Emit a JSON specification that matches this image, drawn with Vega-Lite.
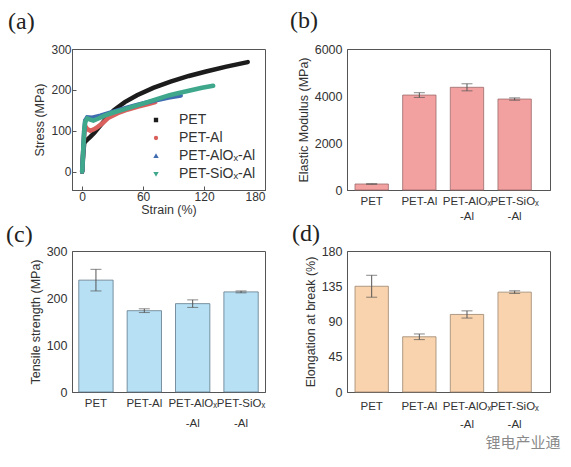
{
  "$schema": "https://vega.github.io/schema/vega-lite/v6.json",
  "background": "white",
  "padding": {"left": 5, "top": 8, "right": 5, "bottom": 3},
  "datasets": {
    "curves": [
      {"sample": "PET", "strain": 0, "stress": 0},
      {"sample": "PET", "strain": 1, "stress": 40},
      {"sample": "PET", "strain": 2, "stress": 70},
      {"sample": "PET", "strain": 4, "stress": 76},
      {"sample": "PET", "strain": 8, "stress": 85},
      {"sample": "PET", "strain": 12, "stress": 95},
      {"sample": "PET", "strain": 17, "stress": 110},
      {"sample": "PET", "strain": 22, "stress": 125},
      {"sample": "PET", "strain": 31, "stress": 150},
      {"sample": "PET", "strain": 42, "stress": 170},
      {"sample": "PET", "strain": 54, "stress": 187},
      {"sample": "PET", "strain": 70, "stress": 205},
      {"sample": "PET", "strain": 87, "stress": 220},
      {"sample": "PET", "strain": 105, "stress": 234},
      {"sample": "PET", "strain": 122, "stress": 245},
      {"sample": "PET", "strain": 142, "stress": 257},
      {"sample": "PET", "strain": 163, "stress": 268},
      {"sample": "PET-Al", "strain": 0, "stress": 0},
      {"sample": "PET-Al", "strain": 1, "stress": 50},
      {"sample": "PET-Al", "strain": 2, "stress": 90},
      {"sample": "PET-Al", "strain": 3, "stress": 112},
      {"sample": "PET-Al", "strain": 5, "stress": 104},
      {"sample": "PET-Al", "strain": 8, "stress": 100},
      {"sample": "PET-Al", "strain": 12, "stress": 104},
      {"sample": "PET-Al", "strain": 15, "stress": 109},
      {"sample": "PET-Al", "strain": 20, "stress": 118},
      {"sample": "PET-Al", "strain": 26, "stress": 132},
      {"sample": "PET-Al", "strain": 35, "stress": 143},
      {"sample": "PET-Al", "strain": 45, "stress": 152},
      {"sample": "PET-Al", "strain": 55, "stress": 159},
      {"sample": "PET-Al", "strain": 65, "stress": 165},
      {"sample": "PET-Al", "strain": 72, "stress": 170},
      {"sample": "PET-AlOₓ-Al", "strain": 0, "stress": 0},
      {"sample": "PET-AlOₓ-Al", "strain": 1, "stress": 50},
      {"sample": "PET-AlOₓ-Al", "strain": 2, "stress": 100},
      {"sample": "PET-AlOₓ-Al", "strain": 3, "stress": 125},
      {"sample": "PET-AlOₓ-Al", "strain": 5, "stress": 133},
      {"sample": "PET-AlOₓ-Al", "strain": 10, "stress": 132},
      {"sample": "PET-AlOₓ-Al", "strain": 18, "stress": 137},
      {"sample": "PET-AlOₓ-Al", "strain": 26, "stress": 143},
      {"sample": "PET-AlOₓ-Al", "strain": 35, "stress": 150},
      {"sample": "PET-AlOₓ-Al", "strain": 45, "stress": 157},
      {"sample": "PET-AlOₓ-Al", "strain": 55, "stress": 164},
      {"sample": "PET-AlOₓ-Al", "strain": 65, "stress": 170},
      {"sample": "PET-AlOₓ-Al", "strain": 75, "stress": 176},
      {"sample": "PET-AlOₓ-Al", "strain": 85, "stress": 181},
      {"sample": "PET-AlOₓ-Al", "strain": 97, "stress": 186},
      {"sample": "PET-SiOₓ-Al", "strain": 0, "stress": 0},
      {"sample": "PET-SiOₓ-Al", "strain": 1, "stress": 50},
      {"sample": "PET-SiOₓ-Al", "strain": 2, "stress": 100},
      {"sample": "PET-SiOₓ-Al", "strain": 3, "stress": 122},
      {"sample": "PET-SiOₓ-Al", "strain": 5, "stress": 130},
      {"sample": "PET-SiOₓ-Al", "strain": 8, "stress": 127},
      {"sample": "PET-SiOₓ-Al", "strain": 11, "stress": 125},
      {"sample": "PET-SiOₓ-Al", "strain": 16, "stress": 130},
      {"sample": "PET-SiOₓ-Al", "strain": 22, "stress": 137},
      {"sample": "PET-SiOₓ-Al", "strain": 30, "stress": 144},
      {"sample": "PET-SiOₓ-Al", "strain": 38, "stress": 150},
      {"sample": "PET-SiOₓ-Al", "strain": 46, "stress": 156},
      {"sample": "PET-SiOₓ-Al", "strain": 54, "stress": 162},
      {"sample": "PET-SiOₓ-Al", "strain": 62, "stress": 168},
      {"sample": "PET-SiOₓ-Al", "strain": 72, "stress": 176},
      {"sample": "PET-SiOₓ-Al", "strain": 86, "stress": 187},
      {"sample": "PET-SiOₓ-Al", "strain": 93, "stress": 191},
      {"sample": "PET-SiOₓ-Al", "strain": 105, "stress": 198},
      {"sample": "PET-SiOₓ-Al", "strain": 118, "stress": 205},
      {"sample": "PET-SiOₓ-Al", "strain": 129, "stress": 210}
    ],
    "modulus": [
      {"sample": "PET", "mean": 255, "err": 10},
      {"sample": "PET-Al", "mean": 4040, "err": 100},
      {"sample": "PET-AlOₓ-Al", "mean": 4370, "err": 150},
      {"sample": "PET-SiOₓ-Al", "mean": 3870, "err": 50}
    ],
    "strength": [
      {"sample": "PET", "mean": 238, "err": 23},
      {"sample": "PET-Al", "mean": 173, "err": 4},
      {"sample": "PET-AlOₓ-Al", "mean": 188, "err": 8},
      {"sample": "PET-SiOₓ-Al", "mean": 213, "err": 2}
    ],
    "elongation": [
      {"sample": "PET", "mean": 135, "err": 14},
      {"sample": "PET-Al", "mean": 70.5, "err": 3.6},
      {"sample": "PET-AlOₓ-Al", "mean": 99, "err": 4.6},
      {"sample": "PET-SiOₓ-Al", "mean": 127.5, "err": 1.7}
    ]
  },
  "title": {
    "text": "锂电产业通",
    "orient": "bottom",
    "anchor": "end",
    "font": "Noto Sans CJK SC",
    "fontSize": 15,
    "fontWeight": "normal",
    "color": "#8a8a8a",
    "offset": 6,
    "dx": 10
  },
  "columns": 2,
  "align": "each",
  "bounds": "flush",
  "spacing": {"row": 61, "column": 82},
  "concat": [
    {
      "width": 193,
      "height": 141,
      "title": {"text": "(a)", "anchor": "start", "frame": "group", "font": "Liberation Serif", "fontSize": 24, "fontWeight": "normal", "color": "#222", "baseline": "alphabetic", "dx": -64, "offset": -10},
      "data": {"name": "curves"},
      "layer": [
        {
          "transform": [{"filter": "datum.strain == 0"}],
          "mark": {"type": "point", "filled": true, "size": 14, "opacity": 1},
          "encoding": {
            "x": {"field": "strain", "type": "quantitative"},
            "y": {"field": "stress", "type": "quantitative"},
            "color": {"field": "sample", "type": "nominal", "title": null},
            "shape": {"field": "sample", "type": "nominal", "title": null,
              "scale": {"domain": ["PET", "PET-Al", "PET-AlOₓ-Al", "PET-SiOₓ-Al"], "range": ["square", "circle", "triangle-up", "triangle-down"]}}
          }
        },
        {
          "mark": {"type": "line", "strokeWidth": 4.5, "clip": true, "strokeCap": "round"},
          "encoding": {
            "x": {"field": "strain", "type": "quantitative",
              "scale": {"domain": [-10, 180], "nice": false, "zero": false},
              "axis": {"title": "Strain (%)", "values": [0, 60, 120, 180], "tickSize": -4, "labelPadding": 5, "titlePadding": 1, "labelFontSize": 12}},
            "y": {"field": "stress", "type": "quantitative",
              "scale": {"domain": [-45, 300], "nice": false, "zero": false},
              "axis": {"title": "Stress (MPa)", "values": [0, 100, 200, 300], "tickSize": -4, "labelPadding": 5, "titlePadding": 4, "labelFontSize": 12}},
            "color": {"field": "sample", "type": "nominal", "title": null,
              "scale": {"domain": ["PET", "PET-Al", "PET-AlOₓ-Al", "PET-SiOₓ-Al"], "range": ["#1c1c1c", "#d9605c", "#3f6cb0", "#3fa88c"]}}
          }
        }
      ]
    },
    {
      "width": 203,
      "height": 141,
      "title": {"text": "(b)", "anchor": "start", "frame": "group", "font": "Liberation Serif", "fontSize": 24, "fontWeight": "normal", "color": "#222", "baseline": "alphabetic", "dx": -57, "offset": -9},
      "data": {"name": "modulus"},
      "encoding": {
        "x": {"field": "sample", "type": "nominal", "sort": null,
          "scale": {"paddingInner": 0.3, "paddingOuter": 0.28, "align": 0.3},
          "axis": {"title": null, "labelAngle": 0, "ticks": false, "labelPadding": 5, "labelLineHeight": 15, "labelFontSize": 11.5,
            "labelExpr": "indexof(datum.label,'ₓ') > 0 ? [slice(datum.label,0,indexof(datum.label,'ₓ')+1), slice(datum.label,indexof(datum.label,'ₓ')+1)] : datum.label"}}
      },
      "layer": [
        {
          "mark": {"type": "bar", "fill": "#f2a0a0", "stroke": "#9c6b6b", "strokeWidth": 0.8},
          "encoding": {
            "y": {"field": "mean", "type": "quantitative", "scale": {"domain": [0, 6000], "nice": false},
              "axis": {"title": "Elastic Modulus (MPa)", "values": [0, 2000, 4000, 6000], "format": "d", "ticks": false, "labelPadding": 5, "labelOverlap": false}}
          }
        },
        {
          "mark": {"type": "errorbar", "ticks": {"size": 11}, "color": "#555"},
          "encoding": {
            "y": {"field": "mean", "type": "quantitative", "title": "Elastic Modulus (MPa)",
              "axis": {"title": "Elastic Modulus (MPa)", "values": [0, 2000, 4000, 6000], "format": "d", "ticks": false, "labelPadding": 5, "labelOverlap": false}},
            "yError": {"field": "err"}
          }
        }
      ]
    },
    {
      "width": 193,
      "height": 141,
      "title": {"text": "(c)", "anchor": "start", "frame": "group", "font": "Liberation Serif", "fontSize": 24, "fontWeight": "normal", "color": "#222", "baseline": "alphabetic", "dx": -66, "offset": -21},
      "data": {"name": "strength"},
      "encoding": {
        "x": {"field": "sample", "type": "nominal", "sort": null,
          "scale": {"paddingInner": 0.29, "paddingOuter": 0.14},
          "axis": {"title": null, "labelAngle": 0, "ticks": false, "labelPadding": 5, "labelLineHeight": 20, "labelFontSize": 11.5,
            "labelExpr": "indexof(datum.label,'ₓ') > 0 ? [slice(datum.label,0,indexof(datum.label,'ₓ')+1), slice(datum.label,indexof(datum.label,'ₓ')+1)] : datum.label"}}
      },
      "layer": [
        {
          "mark": {"type": "bar", "fill": "#b7e0f5", "stroke": "#5f7888", "strokeWidth": 0.8},
          "encoding": {
            "y": {"field": "mean", "type": "quantitative", "scale": {"domain": [0, 300], "nice": false},
              "axis": {"title": "Tensile strength (MPa)", "values": [0, 100, 200, 300], "ticks": false, "labelPadding": 5, "labelOverlap": false}}
          }
        },
        {
          "mark": {"type": "errorbar", "ticks": {"size": 11}, "color": "#555"},
          "encoding": {
            "y": {"field": "mean", "type": "quantitative", "title": "Tensile strength (MPa)",
              "axis": {"title": "Tensile strength (MPa)", "values": [0, 100, 200, 300], "ticks": false, "labelPadding": 5, "labelOverlap": false}},
            "yError": {"field": "err"}
          }
        }
      ]
    },
    {
      "width": 203,
      "height": 141,
      "title": {"text": "(d)", "anchor": "start", "frame": "group", "font": "Liberation Serif", "fontSize": 24, "fontWeight": "normal", "color": "#222", "baseline": "alphabetic", "dx": -55, "offset": -20},
      "data": {"name": "elongation"},
      "encoding": {
        "x": {"field": "sample", "type": "nominal", "sort": null,
          "scale": {"paddingInner": 0.3, "paddingOuter": 0.28, "align": 0.3},
          "axis": {"title": null, "labelAngle": 0, "ticks": false, "labelPadding": 8, "labelLineHeight": 18, "labelFontSize": 11.5,
            "labelExpr": "indexof(datum.label,'ₓ') > 0 ? [slice(datum.label,0,indexof(datum.label,'ₓ')+1), slice(datum.label,indexof(datum.label,'ₓ')+1)] : datum.label"}}
      },
      "layer": [
        {
          "mark": {"type": "bar", "fill": "#f9d3ad", "stroke": "#9c8670", "strokeWidth": 0.8},
          "encoding": {
            "y": {"field": "mean", "type": "quantitative", "scale": {"domain": [0, 180], "nice": false},
              "axis": {"title": "Elongation at break (%)", "values": [0, 45, 90, 135, 180], "ticks": false, "labelPadding": 5, "labelOverlap": false}}
          }
        },
        {
          "mark": {"type": "errorbar", "ticks": {"size": 11}, "color": "#555"},
          "encoding": {
            "y": {"field": "mean", "type": "quantitative", "title": "Elongation at break (%)",
              "axis": {"title": "Elongation at break (%)", "values": [0, 45, 90, 135, 180], "ticks": false, "labelPadding": 5, "labelOverlap": false}},
            "yError": {"field": "err"}
          }
        }
      ]
    }
  ],
  "config": {
    "view": {"stroke": "#555", "strokeWidth": 1},
    "axis": {
      "grid": false,
      "domainColor": "#555",
      "tickColor": "#555",
      "labelFont": "Liberation Sans",
      "labelFontSize": 12.5,
      "labelColor": "#333",
      "labelOverlap": false,
      "titleFont": "Liberation Sans",
      "titleFontSize": 12.5,
      "titleFontWeight": "normal",
      "titleColor": "#333"
    },
    "legend": {
      "orient": "none",
      "legendX": 77,
      "legendY": 64,
      "labelFont": "Liberation Sans",
      "labelFontSize": 14,
      "labelColor": "#333",
      "labelOffset": 16,
      "symbolSize": 8,
      "rowPadding": 4,
      "padding": 0
    }
  }
}
